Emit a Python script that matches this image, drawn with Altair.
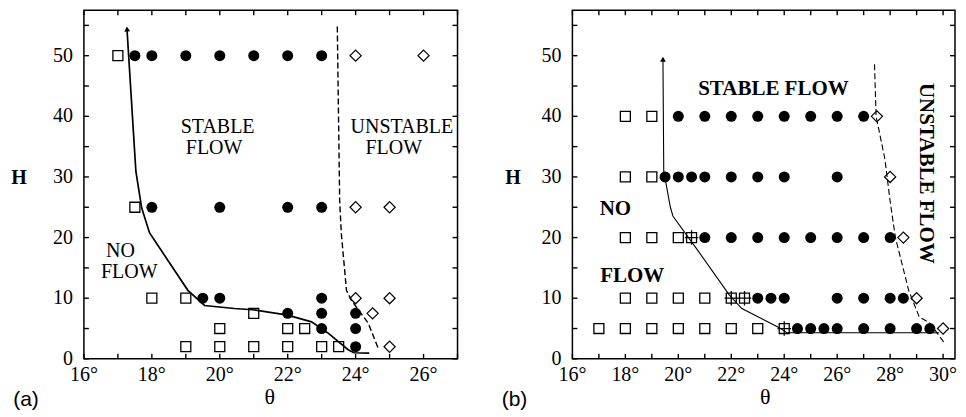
import altair as alt
import pandas as pd

# ---------------- panel (a) data ----------------
a_sq_x = [17, 17.5, 18, 19, 21, 20, 22, 22.5, 19, 20, 21, 22, 23, 23.5]
a_sq_y = [50, 25, 10, 10, 7.5, 5, 5, 5, 2, 2, 2, 2, 2, 2]
a_ci_x = [17.5, 18, 19, 20, 21, 22, 23, 18, 20, 22, 23, 19.5, 20, 23, 22, 23, 24, 23, 24, 24]
a_ci_y = [50, 50, 50, 50, 50, 50, 50, 25, 25, 25, 25, 10, 10, 10, 7.5, 7.5, 7.5, 5, 5, 2]
a_di_x = [24, 26, 24, 25, 24, 25, 24.5, 25]
a_di_y = [50, 50, 25, 25, 10, 10, 7.5, 2]
a_solid_x = [17.27, 17.53, 17.7, 17.93, 19.06, 19.55, 20.43, 20.97, 22.0, 22.7, 23.2, 23.78, 23.95, 24.4]
a_solid_y = [54.2, 30.9, 24.9, 20.8, 11.3, 8.8, 8.3, 8.1, 7.2, 6.1, 4.2, 1.5, 1.0, 0.95]
a_dash_x = [23.46, 23.53, 23.58, 23.73, 23.88, 24.37, 24.66]
a_dash_y = [54.8, 26.0, 20.6, 11.3, 9.6, 5.9, 1.8]
a_arrow_x = [17.27]
a_arrow_y = [54.4]
a_text = ["STABLE", "FLOW", "UNSTABLE", "FLOW", "NO", "FLOW"]
a_text_x = [18.85, 19.0, 23.85, 24.29, 16.65, 16.5]
a_text_y = [38.2, 34.7, 38.2, 34.7, 17.8, 14.3]

# ---------------- panel (b) data ----------------
b_sq_x = [18, 19, 18, 19, 18, 19, 20, 18, 19, 20, 21, 17, 18, 19, 20, 21, 22, 23]
b_sq_y = [40, 40, 30, 30, 20, 20, 20, 10, 10, 10, 10, 5, 5, 5, 5, 5, 5, 5]
b_cs_x = [20.5, 22, 22.5, 24]
b_cs_y = [20, 10, 10, 5]
b_ci_x = [20, 21, 22, 23, 24, 25, 26, 27,
          19.5, 20, 20.5, 21, 22, 23, 24, 26,
          21, 22, 23, 24, 25, 26, 27, 28,
          23, 23.5, 24, 26, 27, 28, 28.5,
          24.5, 25, 25.5, 26, 27, 28, 29, 29.5]
b_ci_y = [40, 40, 40, 40, 40, 40, 40, 40,
          30, 30, 30, 30, 30, 30, 30, 30,
          20, 20, 20, 20, 20, 20, 20, 20,
          10, 10, 10, 10, 10, 10, 10,
          5, 5, 5, 5, 5, 5, 5, 5]
b_di_x = [27.5, 28, 28.5, 29, 30]
b_di_y = [40, 30, 20, 10, 5]
b_solid_x = [19.42, 19.45, 19.7, 19.8, 20.7, 21.93, 22.4, 23.83, 24.1, 29.85]
b_solid_y = [49.2, 31.0, 25.0, 23.5, 18.1, 10.5, 8.3, 5.1, 4.3, 4.3]
b_dash_x = [27.41, 27.47, 27.8, 28.0, 28.2, 28.7, 29.1, 29.5, 30.02]
b_dash_y = [48.6, 40.0, 33.0, 26.0, 20.0, 11.3, 6.9, 5.9, 2.8]
b_arrow_x = [19.42]
b_arrow_y = [49.4]
b_text = ["STABLE FLOW", "NO", "FLOW"]
b_text_x = [20.75, 17.03, 17.05]
b_text_y = [44.5, 24.7, 13.7]
b_rot_text = ["UNSTABLE FLOW"]
b_rot_x = [29.35]
b_rot_y = [30.6]

panel_labels = ["(a)", "(b)"]
x_title = "θ"
y_title = "H"

# ticks / labels
a_xticks = [16, 17, 18, 19, 20, 21, 22, 23, 24, 25, 26, 27]
a_xlabels = [16, 18, 20, 22, 24, 26]
a_xlabel_text = ["16°", "18°", "20°", "22°", "24°", "26°"]
b_xticks = [16, 17, 18, 19, 20, 21, 22, 23, 24, 25, 26, 27, 28, 29, 30]
b_xlabels = [16, 18, 20, 22, 24, 26, 28, 30]
b_xlabel_text = ["16°", "18°", "20°", "22°", "24°", "26°", "28°", "30°"]
yticks = [0, 5, 10, 15, 20, 25, 30, 35, 40, 45, 50, 55]
ylabels = [0, 10, 20, 30, 40, 50]
ylabel_text = ["0", "10", "20", "30", "40", "50"]

SERIF = "Liberation Serif"
PLOT_H = 349
YMAX = 57.5
PLUS = "M-1.35,0L1.35,0M0,-1.45L0,1.45"


def df(xs, ys, **extra):
    d = {"x": xs, "y": ys}
    d.update(extra)
    return pd.DataFrame(d)


def build(W, xdom, xticks, xlabels, xlabel_text, sq, ci, di, solid, dash, arrow,
          arrow_angle, texts, text_weight, lw, dash_w, title_x, ytitle_x, label,
          cs=None, rot=None):
    X = alt.X("x:Q", scale=alt.Scale(domain=xdom, nice=False, zero=False), axis=None)
    Y = alt.Y("y:Q", scale=alt.Scale(domain=[0, YMAX], nice=False, zero=False), axis=None)

    layers = []
    # inward ticks on all four sides
    xt = pd.DataFrame({"x": xticks})
    yt = pd.DataFrame({"y": yticks})
    tick = dict(color="black", strokeWidth=1.4)
    layers.append(alt.Chart(xt).mark_rule(**tick).encode(
        x=X, y=alt.value(PLOT_H), y2=alt.value(PLOT_H - 5)))
    layers.append(alt.Chart(xt).mark_rule(**tick).encode(
        x=X, y=alt.value(0), y2=alt.value(5)))
    layers.append(alt.Chart(yt).mark_rule(**tick).encode(
        y=Y, x=alt.value(0), x2=alt.value(5)))
    layers.append(alt.Chart(yt).mark_rule(**tick).encode(
        y=Y, x=alt.value(W), x2=alt.value(W - 5)))

    # tick labels (positioned through the scales)
    layers.append(alt.Chart(pd.DataFrame({"x": xlabels, "t": xlabel_text})).mark_text(
        font=SERIF, fontSize=20, align="center", baseline="middle", color="black"
    ).encode(x=X, y=alt.value(PLOT_H + 16), text="t:N"))
    layers.append(alt.Chart(pd.DataFrame({"y": ylabels, "t": ylabel_text})).mark_text(
        font=SERIF, fontSize=20, align="right", baseline="middle", color="black"
    ).encode(y=Y, x=alt.value(-11), text="t:N"))

    # axis titles
    layers.append(alt.Chart(pd.DataFrame({"t": [x_title]})).mark_text(
        font=SERIF, fontSize=22, align="center", baseline="middle", color="black"
    ).encode(x=alt.value(title_x), y=alt.value(PLOT_H + 38.5), text="t:N"))
    layers.append(alt.Chart(pd.DataFrame({"t": [y_title]})).mark_text(
        font=SERIF, fontSize=20, fontWeight="bold", align="center", baseline="middle",
        color="black").encode(x=alt.value(ytitle_x), y=alt.value(168), text="t:N"))

    # boundary lines
    layers.append(alt.Chart(df(solid[0], solid[1], i=list(range(len(solid[0]))))).mark_line(
        color="black", strokeWidth=lw).encode(x=X, y=Y, order="i:Q"))
    layers.append(alt.Chart(df(dash[0], dash[1], i=list(range(len(dash[0]))))).mark_line(
        color="black", strokeWidth=dash_w, strokeDash=[6, 3]).encode(x=X, y=Y, order="i:Q"))
    layers.append(alt.Chart(df(arrow[0], arrow[1])).mark_point(
        shape="triangle-up", filled=True, size=34, color="black", angle=arrow_angle,
        opacity=1).encode(x=X, y=Y))

    # markers
    layers.append(alt.Chart(df(sq[0], sq[1])).mark_point(
        shape="square", filled=False, size=100, color="black", strokeWidth=1.3,
        opacity=1).encode(x=X, y=Y))
    if cs is not None:
        layers.append(alt.Chart(df(cs[0], cs[1])).mark_point(
            shape="square", filled=False, size=100, color="black", strokeWidth=1.3,
            opacity=1).encode(x=X, y=Y))
        layers.append(alt.Chart(df(cs[0], cs[1])).mark_point(
            shape=PLUS, filled=False, size=100, color="black", strokeWidth=1.3,
            opacity=1).encode(x=X, y=Y))
    layers.append(alt.Chart(df(ci[0], ci[1])).mark_point(
        shape="circle", filled=True, size=121, color="black", opacity=1).encode(x=X, y=Y))
    layers.append(alt.Chart(df(di[0], di[1])).mark_point(
        shape="diamond", filled=False, size=125, color="black", strokeWidth=1.2,
        opacity=1).encode(x=X, y=Y))

    # region annotations
    layers.append(alt.Chart(df(texts[1], texts[2], t=texts[0])).mark_text(
        align="left", baseline="middle", font=SERIF, fontSize=text_weight[1],
        fontWeight=text_weight[0], color="black").encode(x=X, y=Y, text="t:N"))
    if rot is not None:
        layers.append(alt.Chart(df(rot[1], rot[2], t=rot[0])).mark_text(
            align="center", baseline="middle", font=SERIF, fontSize=21,
            fontWeight="bold", angle=90, color="black").encode(x=X, y=Y, text="t:N"))

    # panel label
    layers.append(alt.Chart(pd.DataFrame({"t": [label]})).mark_text(
        align="center", baseline="middle", font="Liberation Sans", fontSize=21,
        color="black").encode(x=alt.value(-58), y=alt.value(PLOT_H + 41), text="t:N"))

    return alt.layer(*layers).properties(width=W, height=PLOT_H)


left = build(374, [16, 27], a_xticks, a_xlabels, a_xlabel_text,
             (a_sq_x, a_sq_y), (a_ci_x, a_ci_y), (a_di_x, a_di_y),
             (a_solid_x, a_solid_y), (a_dash_x, a_dash_y), (a_arrow_x, a_arrow_y), 356,
             (a_text, a_text_x, a_text_y), ("normal", 20), 1.7, 1.4,
             186, -65, panel_labels[0])

right = build(383, [16, 30.45], b_xticks, b_xlabels, b_xlabel_text,
              (b_sq_x, b_sq_y), (b_ci_x, b_ci_y), (b_di_x, b_di_y),
              (b_solid_x, b_solid_y), (b_dash_x, b_dash_y), (b_arrow_x, b_arrow_y), 0,
              (b_text, b_text_x, b_text_y), ("bold", 21), 1.1, 1.1,
              193, -59.5, panel_labels[1],
              cs=(b_cs_x, b_cs_y), rot=(b_rot_text, b_rot_x, b_rot_y))

chart = alt.hconcat(left, right, spacing=115, bounds="flush").properties(
    padding={"left": 2, "top": 0, "right": 0, "bottom": 0},
    background="white",
).configure_view(
    stroke="black", strokeWidth=1.5
)

chart.save("out.html", embed_options={"renderer": "svg", "actions": False})
